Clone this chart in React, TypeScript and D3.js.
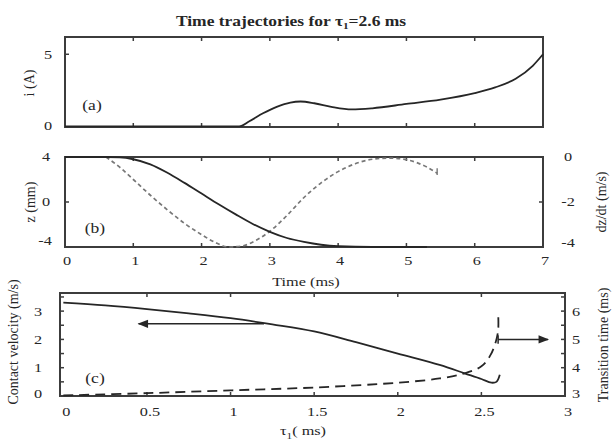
import React, { useEffect } from "react";
import * as d3 from "d3";

// panel (a): current i (A) vs time (ms)
const curTime = [0, 1, 2, 2.55, 2.7, 2.9, 3.1, 3.3, 3.45, 3.65, 3.9, 4.2, 4.5, 5, 5.5, 6, 6.3, 6.6, 6.85, 7];
const curVal = [0, 0, 0, 0, 0.35, 0.9, 1.35, 1.65, 1.72, 1.6, 1.35, 1.17, 1.25, 1.55, 1.85, 2.3, 2.7, 3.3, 4.2, 5.0];

// panel (b): z (mm) solid, dz/dt (m/s) dashed
const zTime = [0, 0.6, 0.8, 1.0, 1.25, 1.5, 1.75, 2.0, 2.25, 2.5, 2.75, 3.0, 3.25, 3.5, 3.75, 4.0, 4.5, 5.3];
const zVal = [4, 4, 3.97, 3.8, 3.35, 2.6, 1.7, 0.75, -0.2, -1.1, -1.95, -2.65, -3.2, -3.55, -3.8, -3.93, -4, -4];
const vTime = [0.6, 0.8, 1.0, 1.25, 1.5, 1.75, 2.0, 2.2, 2.4, 2.6, 2.8, 3.0, 3.25, 3.5, 3.75, 4.0, 4.25, 4.5, 4.75, 5.0, 5.15, 5.3, 5.45];
const vVal = [0, -0.45, -1.0, -1.7, -2.35, -2.95, -3.45, -3.8, -4.0, -3.95, -3.7, -3.3, -2.6, -1.8, -1.15, -0.65, -0.3, -0.1, -0.05, -0.12, -0.25, -0.45, -0.72];

// panel (c): contact velocity (solid, left) and transition time (dashed, right) vs tau1
const tauSolid = [0, 0.25, 0.5, 0.75, 1.0, 1.25, 1.5, 1.75, 2.0, 2.25, 2.4, 2.5, 2.56, 2.59, 2.61];
const velVal = [3.3, 3.2, 3.07, 2.92, 2.75, 2.53, 2.28, 1.9, 1.5, 1.1, 0.8, 0.6, 0.47, 0.5, 0.75];
const tauDash = [0, 0.5, 1.0, 1.5, 2.0, 2.25, 2.4, 2.5, 2.55, 2.58, 2.6, 2.6];
const transVal = [3.02, 3.1, 3.2, 3.3, 3.47, 3.62, 3.8, 4.05, 4.4, 4.8, 5.3, 5.95];

const timeTicks = [0, 1, 2, 3, 4, 5, 6, 7];
const tauTicks = [0, 0.5, 1, 1.5, 2, 2.5, 3];
const tauTickLabels = ["0", "0.5", "1", "1.5", "2", "2.5", "3"];

const FONT = "'Liberation Serif', 'Times New Roman', serif";
const INK = "#262626";
const FRAME = "#3c3c3c";
const SX = 1.25; // the source figure is stretched sideways

const T = ({ x, y, children, size = 13, anchor = "middle", weight = "normal", rot = 0 }: any) => (
  <text
    transform={rot ? `translate(${x},${y}) rotate(${rot})` : `translate(${x},${y}) scale(${SX},1)`}
    textAnchor={anchor}
    dominantBaseline="central"
    fontFamily={FONT}
    fontSize={size}
    fontWeight={weight}
    fill={INK}
  >
    {children}
  </text>
);

const App = () => {
  useEffect(() => {
    document.body.style.margin = "0";
  }, []);

  // scales
  const xt = d3.scaleLinear().domain([0, 7]).range([65, 543]);
  const ya = d3.scaleLinear().domain([-0.05, 6.2]).range([127, 37]);
  const yb = d3.scaleLinear().domain([-4, 4]).range([247, 157]);
  const ybr = d3.scaleLinear().domain([-4, 0]).range([247, 157]);
  const xc = d3.scaleLinear().domain([-0.02, 3.0]).range([60, 565]);
  const yc = d3.scaleLinear().domain([0, 3.64]).range([396, 293]);
  const ycr = d3.scaleLinear().domain([3, 6.64]).range([396, 293]);

  const lineA = d3
    .line<number>()
    .x((d, i) => xt(curTime[i]))
    .y((d) => ya(d))
    .curve(d3.curveMonotoneX);
  const lineZ = d3
    .line<number>()
    .x((d, i) => xt(zTime[i]))
    .y((d) => yb(d))
    .curve(d3.curveMonotoneX);
  const lineV = d3
    .line<number>()
    .x((d, i) => xt(vTime[i]))
    .y((d) => ybr(d))
    .curve(d3.curveMonotoneX);
  const lineVel = d3
    .line<number>()
    .x((d, i) => xc(tauSolid[i]))
    .y((d) => yc(d))
    .curve(d3.curveCatmullRom.alpha(0.5));
  const lineTr = d3
    .line<number>()
    .x((d, i) => xc(tauDash[i]))
    .y((d) => ycr(d))
    .curve(d3.curveCatmullRom.alpha(0.5));

  const frame = (x0: number, x1: number, y0: number, y1: number) => (
    <rect x={x0} y={y0} width={x1 - x0} height={y1 - y0} fill="none" stroke={FRAME} strokeWidth={2} />
  );

  const tk = 4;
  const innerTimeTicks = [1, 2, 3, 4, 5, 6];
  const cHalfTicks = d3.range(0.5, 3, 0.5);
  const cLeftTicks = d3.range(0.5, 3.6, 0.5);

  return (
    <svg width={613} height={443} style={{ display: "block", background: "#fff" }}>
      <defs>
        <marker id="ah" viewBox="0 0 10 10" refX="9" refY="5" markerWidth="9" markerHeight="7" orient="auto-start-reverse">
          <path d="M0,1 L10,5 L0,9 z" fill={INK} />
        </marker>
      </defs>

      <T x={291} y={21} size={14} weight="bold">
        Time trajectories for{"  "}τ<tspan fontSize={9} dy={4}>1</tspan>
        <tspan dy={-4}>=2.6 ms</tspan>
      </T>

      {/* ---- panel (a) ---- */}
      {frame(65, 543, 37, 127)}
      {innerTimeTicks.map((t) => (
        <g key={"a" + t} stroke={FRAME} strokeWidth={1.5}>
          <line x1={xt(t)} x2={xt(t)} y1={37} y2={37 + tk} />
          <line x1={xt(t)} x2={xt(t)} y1={127} y2={127 - tk} />
        </g>
      ))}
      <line x1={65} x2={65 + tk} y1={ya(5)} y2={ya(5)} stroke={FRAME} strokeWidth={1.5} />
      <path d={lineA(curVal) || ""} fill="none" stroke={INK} strokeWidth={1.8} />
      <T x={48} y={ya(5)}>5</T>
      <T x={48} y={ya(0) - 1}>0</T>
      <T x={29} y={83} rot={-90} size={14}>i (A)</T>
      <T x={92} y={105} size={14}>(a)</T>

      {/* ---- panel (b) ---- */}
      {frame(65, 543, 157, 247)}
      {innerTimeTicks.map((t) => (
        <g key={"b" + t} stroke={FRAME} strokeWidth={1.5}>
          <line x1={xt(t)} x2={xt(t)} y1={157} y2={157 + tk} />
          <line x1={xt(t)} x2={xt(t)} y1={247} y2={247 - tk} />
        </g>
      ))}
      <line x1={65} x2={65 + tk} y1={yb(0)} y2={yb(0)} stroke={FRAME} strokeWidth={1.5} />
      <line x1={543} x2={543 - tk} y1={ybr(-2)} y2={ybr(-2)} stroke={FRAME} strokeWidth={1.5} />
      <path d={lineV(vVal) || ""} fill="none" stroke="#777" strokeWidth={1.7} strokeDasharray="4,3" />
      <line x1={xt(5.45)} x2={xt(5.45)} y1={ybr(-0.5)} y2={ybr(-0.8)} stroke="#777" strokeWidth={1.4} />
      <path d={lineZ(zVal) || ""} fill="none" stroke={INK} strokeWidth={1.8} />
      <T x={46} y={yb(4)}>4</T>
      <T x={46} y={yb(0)}>0</T>
      <T x={45} y={yb(-4) - 6}>-4</T>
      <T x={568} y={ybr(0)}>0</T>
      <T x={568} y={ybr(-2)}>-2</T>
      <T x={568} y={ybr(-4) - 4}>-4</T>
      <T x={30} y={202} rot={-90} size={14}>z (mm)</T>
      <T x={601} y={202} rot={-90} size={14}>dz/dt (m/s)</T>
      <T x={95} y={228} size={14}>(b)</T>
      {timeTicks.map((t) => (
        <T key={"bl" + t} x={xt(t) + 2} y={261}>
          {t}
        </T>
      ))}
      <T x={306} y={282}>Time (ms)</T>

      {/* ---- panel (c) ---- */}
      {frame(60, 565, 293, 396)}
      {cHalfTicks.map((t) => (
        <g key={"c" + t} stroke={FRAME} strokeWidth={1.5}>
          <line x1={xc(t)} x2={xc(t)} y1={293} y2={293 + tk} />
          <line x1={xc(t)} x2={xc(t)} y1={396} y2={396 - tk} />
        </g>
      ))}
      {cLeftTicks.map((v) => (
        <g key={"cl" + v} stroke={FRAME} strokeWidth={1.5}>
          <line x1={60} x2={60 + tk} y1={yc(v)} y2={yc(v)} />
          <line x1={565} x2={565 - tk} y1={yc(v)} y2={yc(v)} />
        </g>
      ))}
      <path d={lineTr(transVal) || ""} fill="none" stroke={INK} strokeWidth={1.8} strokeDasharray="10,6" />
      <path d={lineVel(velVal) || ""} fill="none" stroke={INK} strokeWidth={1.8} />
      {/* arrows pointing to each axis */}
      <line x1={xc(1.2)} x2={xc(0.45)} y1={yc(2.55)} y2={yc(2.55)} stroke={INK} strokeWidth={1.5} markerEnd="url(#ah)" />
      <line x1={xc(2.6)} x2={xc(2.6)} y1={ycr(4.85)} y2={ycr(5.15)} stroke={INK} strokeWidth={1.5} />
      <line x1={xc(2.6)} x2={548} y1={ycr(5)} y2={ycr(5)} stroke={INK} strokeWidth={1.5} markerEnd="url(#ah)" />
      {[0, 1, 2, 3].map((v) => (
        <T key={"cy" + v} x={38} y={yc(v) - (v === 0 ? 2 : 0)}>
          {v}
        </T>
      ))}
      {[3, 4, 5, 6].map((v) => (
        <T key={"cr" + v} x={576} y={ycr(v) - (v === 3 ? 2 : 0)}>
          {v}
        </T>
      ))}
      {tauTicks.map((t, i) => (
        <T key={"cx" + t} x={xc(t) + 3} y={412}>
          {tauTickLabels[i]}
        </T>
      ))}
      <T x={303} y={431}>
        τ<tspan fontSize={9} dy={4}>1</tspan>
        <tspan dy={-4}>( ms)</tspan>
      </T>
      <T x={13} y={342} rot={-90} size={14}>Contact velocity (m/s)</T>
      <T x={603} y={345} rot={-90} size={14}>Transition time (ms)</T>
      <T x={95} y={378} size={14}>(c)</T>
    </svg>
  );
};

export default App;
